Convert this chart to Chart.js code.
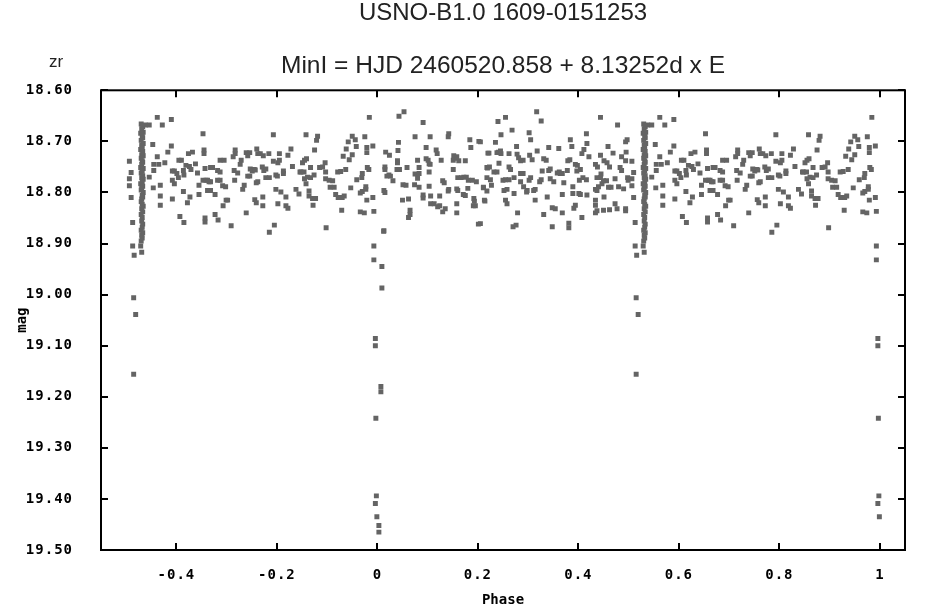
<!DOCTYPE html>
<html>
<head>
<meta charset="utf-8">
<script src="https://cdn.jsdelivr.net/npm/chart.js@4"></script>
<style>
  body { margin: 0; background: #fff; }
</style>
</head>
<body>
<canvas id="phase-chart" width="937" height="616"></canvas>
<script>
// phase, mag pairs (phase folded to -0.5 .. 0.5)
const bandWest = [
  [-0.4935,18.739],[-0.490,18.761],[-0.4935,18.773],[-0.4935,18.787],[-0.490,18.81],[-0.487,18.859],
  [-0.462,18.668],[-0.454,18.668],[-0.438,18.653],[-0.428,18.668],[-0.410,18.657],[-0.447,18.706],
  [-0.410,18.709],[-0.417,18.721],[-0.438,18.730],[-0.445,18.745],[-0.435,18.745],[-0.445,18.757],
  [-0.454,18.770],[-0.446,18.791],[-0.432,18.786],[-0.432,18.807],[-0.432,18.825],[-0.423,18.742],
  [-0.408,18.758],[-0.404,18.758],[-0.408,18.776],[-0.404,18.783],[-0.408,18.813],[-0.399,18.763],
  [-0.396,18.771],[-0.395,18.737],[-0.390,18.737],[-0.393,18.847],[-0.385,18.859],[-0.386,18.757],
  [-0.385,18.766],[-0.381,18.747],[-0.386,18.798],[-0.378,18.820],[-0.373,18.809],[-0.376,18.724],
  [-0.368,18.721],[-0.374,18.749],[-0.371,18.755],[-0.362,18.744],[-0.358,18.762],[-0.355,18.786],
  [-0.355,18.804],[-0.347,18.685],[-0.345,18.717],[-0.345,18.724],[-0.343,18.753],[-0.347,18.776],
  [-0.341,18.776],[-0.338,18.776],[-0.335,18.779],[-0.332,18.779],[-0.338,18.796],[-0.332,18.796],
  [-0.323,18.804],[-0.343,18.850],[-0.343,18.858],[-0.332,18.751],[-0.328,18.751],[-0.318,18.757],
  [-0.313,18.737],[-0.318,18.776],[-0.313,18.776],[-0.313,18.760],[-0.308,18.787],[-0.302,18.789],
  [-0.301,18.815],[-0.298,18.815],[-0.307,18.826],[-0.317,18.854],[-0.323,18.843],[-0.305,18.737],
  [-0.291,18.865],[-0.283,18.717],[-0.283,18.724],[-0.287,18.730],[-0.285,18.757],[-0.278,18.762],
  [-0.284,18.776],[-0.273,18.745],[-0.271,18.737],[-0.265,18.786],[-0.268,18.794],[-0.261,18.722],
  [-0.254,18.722],[-0.258,18.728],[-0.261,18.840],[-0.258,18.768],[-0.254,18.768],[-0.253,18.754],
  [-0.245,18.755],[-0.249,18.758],[-0.243,18.756],[-0.240,18.715],[-0.241,18.781],[-0.238,18.779],
  [-0.238,18.724],[-0.233,18.724],[-0.244,18.814],[-0.241,18.820],[-0.227,18.728],[-0.229,18.750],
  [-0.226,18.757],[-0.222,18.754],[-0.222,18.771],[-0.215,18.771],[-0.228,18.809],[-0.228,18.826],
  [-0.215,18.878],[-0.205,18.864],[-0.207,18.687],[-0.216,18.724],[-0.207,18.739],[-0.202,18.766],
  [-0.199,18.768],[-0.202,18.794],[-0.192,18.799],[-0.195,18.724],[-0.195,18.737],[-0.198,18.742],
  [-0.198,18.822],[-0.187,18.758],[-0.187,18.763],[-0.182,18.809],[-0.182,18.826],[-0.178,18.831],
  [-0.178,18.727],[-0.169,18.749],[-0.172,18.715],[-0.162,18.794],[-0.156,18.803],[-0.154,18.760]
];

const bandNearMin = [
  [-0.142,18.687],[-0.149,18.742],[-0.145,18.737],[-0.141,18.734],[-0.152,18.760],[-0.146,18.760],
  [-0.145,18.773],[-0.139,18.770],[-0.133,18.771],[-0.126,18.766],[-0.142,18.783],[-0.136,18.797],
  [-0.136,18.807],[-0.129,18.812],[-0.123,18.812],[-0.128,18.825],[-0.125,18.717],[-0.133,18.751],
  [-0.119,18.690],[-0.121,18.698],[-0.115,18.751],[-0.109,18.750],[-0.104,18.742],[-0.103,18.760],
  [-0.103,18.773],[-0.096,18.776],[-0.089,18.777],[-0.094,18.790],[-0.086,18.790],[-0.102,18.869],
  [-0.079,18.760],[-0.073,18.759],[-0.063,18.755],[-0.083,18.804],[-0.078,18.810],[-0.070,18.810],
  [-0.066,18.807],[-0.071,18.835],[-0.068,18.729],[-0.062,18.715],[-0.058,18.701],[-0.050,18.690],
  [-0.044,18.697],[-0.042,18.710],[-0.056,18.736],[-0.053,18.791],[-0.041,18.775],[-0.030,18.763],
  [-0.031,18.771],[-0.025,18.691],[-0.021,18.712],[-0.021,18.722],[-0.017,18.755],[-0.020,18.751],
  [-0.009,18.709],[-0.016,18.653],[-0.034,18.801],[-0.030,18.798],[-0.023,18.794],[-0.023,18.789],
  [-0.021,18.815],[-0.009,18.810],[-0.034,18.838],[-0.026,18.840],[-0.007,18.837],[-0.050,18.726],
  [0.043,18.651],[0.053,18.642],[0.091,18.663],[0.075,18.691],[0.105,18.691],[0.142,18.685],
  [0.141,18.691],[0.184,18.697],[0.202,18.700],[0.186,18.712],[0.220,18.723],[0.0165,18.721],
  [0.024,18.727],[0.042,18.702],[0.041,18.718],[0.040,18.738],[0.040,18.742],[0.015,18.750],
  [0.015,18.755],[0.023,18.766],[0.026,18.768],[0.031,18.777],[0.013,18.796],[0.015,18.800],
  [0.039,18.755],[0.044,18.755],[0.059,18.751],[0.050,18.815],[0.051,18.785],[0.057,18.786],
  [0.062,18.813],[0.065,18.835],[0.065,18.843],[0.062,18.849],[0.080,18.737],[0.083,18.751],
  [0.075,18.764],[0.083,18.763],[0.080,18.772],[0.074,18.785],[0.083,18.790],[0.091,18.805],
  [0.091,18.811],[0.097,18.712],[0.097,18.734],[0.101,18.737],[0.103,18.744],[0.105,18.745],
  [0.103,18.760],[0.103,18.788],[0.106,18.807],[0.106,18.822],[0.113,18.822],[0.120,18.828],
  [0.124,18.826],[0.124,18.807],[0.117,18.717],[0.119,18.724],[0.127,18.737],[0.133,18.781],
  [0.130,18.777],[0.135,18.832],[0.130,18.838],[0.141,18.797],[0.142,18.794],[0.152,18.728],
  [0.154,18.733],[0.151,18.737],[0.158,18.730],[0.162,18.738],[0.151,18.755],[0.160,18.771],
  [0.167,18.771],[0.175,18.738],[0.172,18.770],[0.177,18.770],[0.158,18.793],[0.160,18.796],
  [0.171,18.804],[0.175,18.806],[0.158,18.822],[0.158,18.840],[0.192,18.812],[0.193,18.817],
  [0.191,18.826],[0.195,18.826],[0.189,18.776],[0.181,18.776],[0.197,18.779],[0.201,18.862],
  [0.180,18.792],[0.211,18.790],[0.218,18.797],[0.214,18.817],[0.219,18.752],[0.013,18.875],
  [0.019,18.768]
];

const bandEast = [
  [0.205,18.701],[0.205,18.861],[0.211,18.791],[0.213,18.815],[0.218,18.751],[0.223,18.750],
  [0.222,18.723],[0.218,18.771],[0.225,18.775],[0.227,18.786],[0.232,18.760],[0.238,18.760],
  [0.235,18.702],[0.238,18.722],[0.241,18.721],[0.245,18.719],[0.240,18.661],[0.246,18.687],
  [0.255,18.653],[0.242,18.743],[0.246,18.724],[0.250,18.776],[0.255,18.775],[0.262,18.775],
  [0.252,18.796],[0.258,18.794],[0.255,18.815],[0.258,18.822],[0.262,18.750],[0.265,18.755],
  [0.262,18.724],[0.268,18.678],[0.272,18.771],[0.272,18.802],[0.270,18.867],[0.276,18.864],
  [0.277,18.710],[0.279,18.840],[0.278,18.725],[0.281,18.732],[0.285,18.738],[0.290,18.737],
  [0.285,18.763],[0.290,18.763],[0.285,18.779],[0.291,18.789],[0.298,18.796],[0.297,18.799],
  [0.302,18.776],[0.305,18.771],[0.302,18.683],[0.305,18.697],[0.303,18.727],[0.308,18.736],
  [0.311,18.796],[0.314,18.794],[0.317,18.642],[0.326,18.660],[0.314,18.815],[0.318,18.719],
  [0.323,18.779],[0.326,18.775],[0.328,18.758],[0.331,18.734],[0.336,18.737],[0.331,18.843],
  [0.338,18.809],[0.341,18.712],[0.341,18.757],[0.344,18.754],[0.344,18.773],[0.348,18.867],
  [0.348,18.830],[0.354,18.832],[0.351,18.779],[0.358,18.762],[0.362,18.760],[0.361,18.714],
  [0.364,18.763],[0.368,18.763],[0.368,18.840],[0.368,18.804],[0.371,18.781],[0.378,18.757],
  [0.381,18.860],[0.381,18.869],[0.383,18.736],[0.379,18.738],[0.384,18.697],[0.387,18.710],
  [0.389,18.789],[0.389,18.802],[0.391,18.831],[0.394,18.825],[0.394,18.745],[0.398,18.747],
  [0.397,18.758],[0.402,18.776],[0.409,18.771],[0.416,18.775],[0.404,18.755],[0.407,18.724],
  [0.407,18.849],[0.411,18.716],[0.416,18.685],[0.417,18.704],[0.404,18.804],[0.401,18.802],
  [0.417,18.805],[0.421,18.730],[0.434,18.745],[0.438,18.750],[0.434,18.815],[0.434,18.825],
  [0.437,18.771],[0.444,18.771],[0.434,18.794],[0.437,18.796],[0.440,18.789],[0.444,18.653],
  [0.444,18.727],[0.445,18.764],[0.447,18.783],[0.450,18.777],[0.451,18.738],[0.457,18.742],
  [0.451,18.809],[0.450,18.835],[0.437,18.836],[0.434,18.840],[0.459,18.710],[0.456,18.777],
  [0.460,18.790],[0.465,18.790],[0.462,18.834],[0.462,18.750],[0.469,18.723],[0.473,18.773],
  [0.473,18.822],[0.477,18.832],[0.478,18.668],[0.480,18.789],[0.483,18.751],[0.486,18.757],
  [0.486,18.730],[0.490,18.793],[0.494,18.701],[0.497,18.697],[0.494,18.738],[0.495,18.721],
  [0.494,18.832],[0.494,18.836],[0.498,18.771],[0.499,18.776]
];

// the dense run of observations near phase -0.47
const column = [
  [-0.470,18.666],[-0.467,18.671],[-0.469,18.675],[-0.466,18.682],[-0.471,18.684],[-0.468,18.690],
  [-0.467,18.693],[-0.470,18.698],[-0.466,18.704],[-0.469,18.707],[-0.468,18.711],[-0.471,18.716],
  [-0.467,18.720],[-0.469,18.726],[-0.466,18.728],[-0.470,18.733],[-0.468,18.738],[-0.467,18.741],
  [-0.469,18.745],[-0.471,18.751],[-0.466,18.753],[-0.468,18.758],[-0.470,18.762],[-0.467,18.767],
  [-0.469,18.771],[-0.466,18.774],[-0.468,18.779],[-0.471,18.783],[-0.467,18.788],[-0.469,18.791],
  [-0.470,18.795],[-0.466,18.800],[-0.468,18.806],[-0.467,18.809],[-0.469,18.813],[-0.470,18.818],
  [-0.468,18.823],[-0.466,18.827],[-0.469,18.832],[-0.467,18.838],[-0.470,18.843],[-0.468,18.849],
  [-0.469,18.856],[-0.467,18.862],[-0.468,18.868],[-0.470,18.874],[-0.467,18.879],[-0.469,18.884],
  [-0.468,18.889],[-0.470,18.895],[-0.471,18.905],[-0.469,18.917]
];

// secondary and primary minimum
const secondaryMin = [
  [-0.487,18.905],[-0.484,18.923],[-0.485,19.006],[-0.481,19.039],[-0.485,19.156]
];
const primaryMin = [
  [-0.007,18.905],[-0.007,18.932],[0.009,18.945],[0.009,18.987],[-0.004,19.086],[-0.004,19.100],
  [0.007,19.180],[0.007,19.190],[-0.003,19.242],[-0.002,19.394],[-0.004,19.409],[-0.001,19.435],
  [0.003,19.452],[0.003,19.465],[0.0125,18.876]
];

const xTicks = [-0.4, -0.2, 0, 0.2, 0.4, 0.6, 0.8, 1];
const yTicks = [18.6, 18.7, 18.8, 18.9, 19.0, 19.1, 19.2, 19.3, 19.4, 19.5];

// points left of phase 0 are shown again one cycle later
const points = [];
[bandWest, bandNearMin, bandEast, column, secondaryMin, primaryMin].forEach(list => {
  list.forEach(([p, m]) => {
    points.push({x: p, y: m});
    if (p < 0) points.push({x: p + 1, y: m});
  });
});

const tickFont = {family: 'DejaVu Sans Mono', size: 14, weight: 'bold'};

// frame with inward ticks on all four sides, plus the band label
const framePlugin = {
  id: 'frame',
  beforeDraw(chart) {
    ['x', 'y'].forEach(id => {
      const s = chart.scales[id];
      if (s._spaced) return;
      const orig = s.drawLabels;
      s.drawLabels = function(area) {
        this.ctx.save();
        this.ctx.letterSpacing = '1px';
        orig.call(this, area);
        this.ctx.restore();
      };
      s._spaced = true;
    });
  },
  afterDraw(chart) {
    const {ctx, chartArea: a, scales} = chart;
    ctx.save();
    ctx.strokeStyle = '#000';
    ctx.lineWidth = 2;
    ctx.strokeRect(a.left, a.top, a.right - a.left, a.bottom - a.top);
    ctx.beginPath();
    xTicks.forEach(v => {
      const px = Math.round(scales.x.getPixelForValue(v));
      ctx.moveTo(px, a.bottom); ctx.lineTo(px, a.bottom - 7);
      ctx.moveTo(px, a.top); ctx.lineTo(px, a.top + 7);
    });
    yTicks.forEach(v => {
      const py = Math.round(scales.y.getPixelForValue(v));
      ctx.moveTo(a.left, py); ctx.lineTo(a.left + 7, py);
      ctx.moveTo(a.right, py); ctx.lineTo(a.right - 7, py);
    });
    ctx.stroke();
    ctx.fillStyle = '#222';
    ctx.font = '17px "Liberation Sans"';
    ctx.textAlign = 'center';
    ctx.textBaseline = 'alphabetic';
    ctx.fillText('zr', 56, 67);
    ctx.restore();
  }
};

new Chart(document.getElementById('phase-chart'), {
  type: 'scatter',
  data: {
    datasets: [{
      data: points,
      pointStyle: 'rect',
      pointRadius: 3.5,
      pointHoverRadius: 3.5,
      pointBorderWidth: 0,
      backgroundColor: '#646464',
      borderColor: '#646464'
    }]
  },
  options: {
    responsive: false,
    animation: false,
    devicePixelRatio: 1,
    layout: {padding: {left: 0, right: 32, top: 0, bottom: 0}},
    plugins: {
      legend: {display: false},
      tooltip: {enabled: false},
      title: {
        display: true,
        text: 'USNO-B1.0 1609-0151253',
        fullSize: false,
        color: '#222',
        font: {family: 'Liberation Sans', size: 24, weight: 'normal'},
        padding: {top: -1.5, bottom: 24}
      },
      subtitle: {
        display: true,
        text: 'MinI = HJD 2460520.858 + 8.13252d x E',
        fullSize: false,
        color: '#222',
        font: {family: 'Liberation Sans', size: 24.5, weight: 'normal'},
        padding: {top: 0, bottom: 9.6}
      }
    },
    scales: {
      x: {
        type: 'linear',
        min: -0.55,
        max: 1.05,
        grid: {display: false},
        border: {display: false},
        afterBuildTicks: s => { s.ticks = xTicks.map(v => ({value: v})); },
        afterFit: s => { s.height = 66; },
        ticks: {
          color: '#000',
          font: tickFont,
          padding: 9,
          autoSkip: false,
          maxRotation: 0,
          callback: v => (v === 0 ? '0' : v === 1 ? '1' : v.toFixed(1))
        },
        title: {
          display: true,
          text: 'Phase',
          color: '#000',
          font: {family: 'DejaVu Sans Mono', size: 14, weight: 'bold'},
          padding: {top: 7, bottom: 7}
        }
      },
      y: {
        type: 'linear',
        reverse: true,
        min: 18.6,
        max: 19.5,
        grid: {display: false},
        border: {display: false},
        afterBuildTicks: s => { s.ticks = yTicks.map(v => ({value: v})); },
        afterFit: s => { s.width = 101; },
        ticks: {
          color: '#000',
          font: tickFont,
          padding: 20,
          autoSkip: false,
          callback: v => v.toFixed(2)
        },
        title: {
          display: true,
          text: 'mag',
          color: '#000',
          font: {family: 'DejaVu Sans Mono', size: 14, weight: 'bold'},
          padding: {top: 14, bottom: 14}
        }
      }
    }
  },
  plugins: [framePlugin]
});
</script>
</body>
</html>
